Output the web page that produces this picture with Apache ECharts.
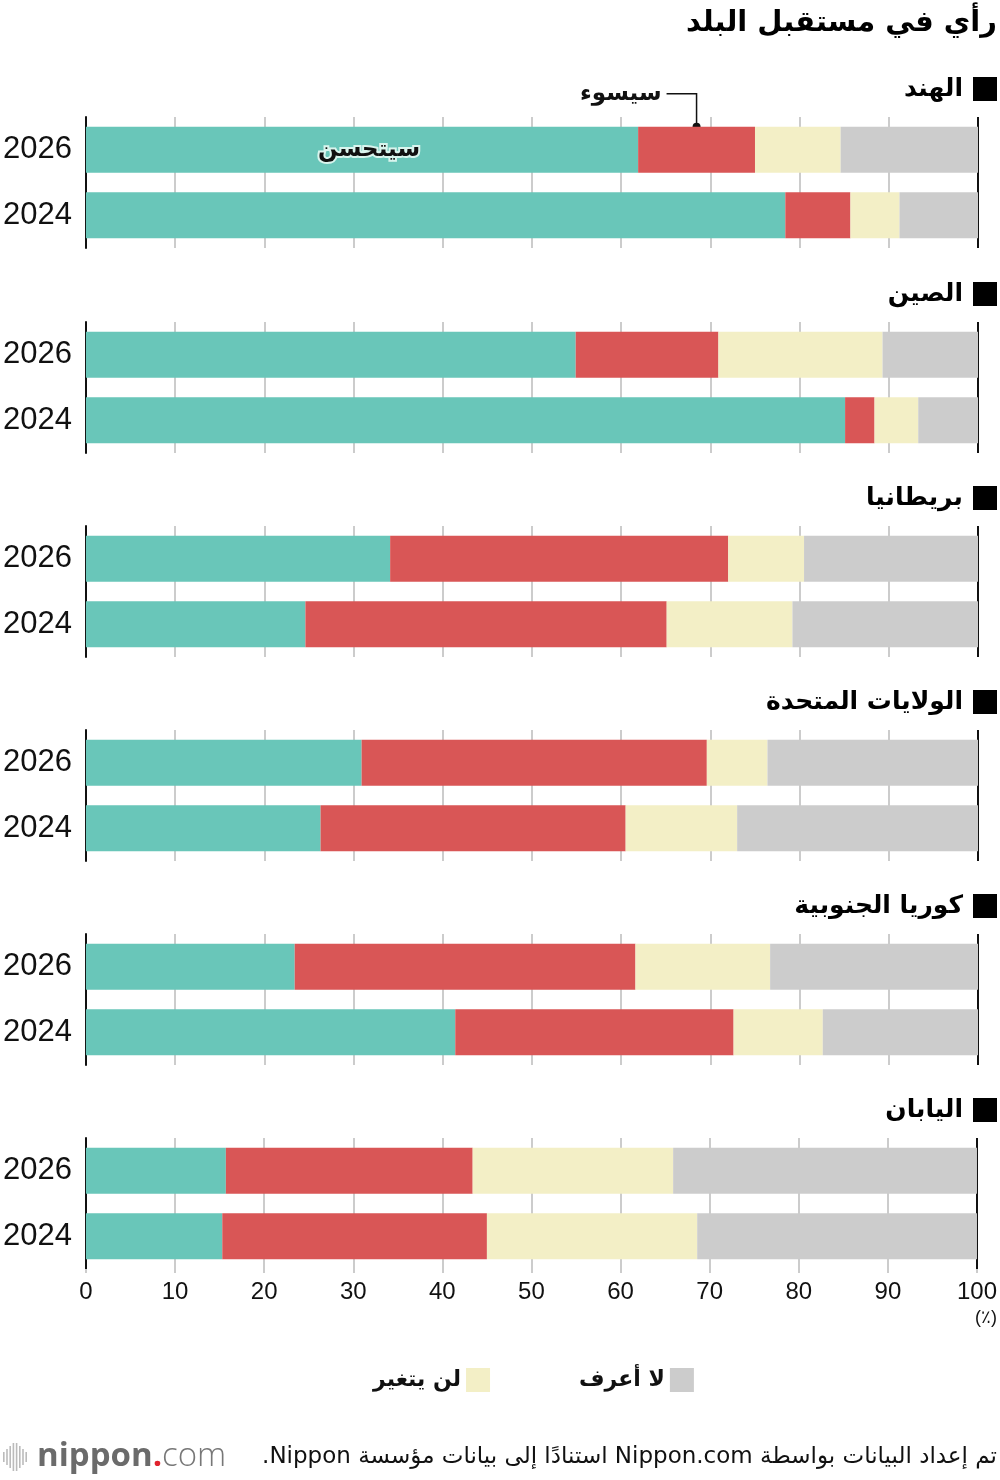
<!DOCTYPE html>
<html><head><meta charset="utf-8">
<script src="https://cdn.jsdelivr.net/npm/echarts@6/dist/echarts.min.js"></script>
<style>html,body{margin:0;padding:0;background:#fff}#c{width:1000px;height:1480px}</style>
</head><body><div id="c"></div>
<script>
const years = ['2026', '2024'];
const countries = ['الهند', 'الصين', 'بريطانيا', 'الولايات المتحدة', 'كوريا الجنوبية', 'اليابان'];
const better = [[61.9, 78.4], [54.9, 85.1], [34.1, 24.6], [30.9, 26.3], [23.4, 41.4], [15.7, 15.3]];
const worse  = [[13.1, 7.3], [16.0, 3.3], [37.9, 40.5], [38.7, 34.2], [38.2, 31.2], [27.7, 29.7]];
const same   = [[9.6, 5.5], [18.4, 4.9], [8.5, 14.1], [6.8, 12.5], [15.1, 10.0], [22.5, 23.6]];
const dunno  = [[15.4, 8.8], [10.7, 6.7], [19.5, 20.8], [23.6, 27.0], [23.3, 17.4], [34.1, 31.4]];
const seriesNames = ['سيتحسن', 'سيسوء', 'لن يتغير', 'لا أعرف'];
const xTickLabels = ['0', '10', '20', '30', '40', '50', '60', '70', '80', '90', '100'];

const colors = ['#69c6b9', '#d95656', '#f3efc6', '#cccccc'];
const AR = "'DejaVu Sans', sans-serif";
const NUM = "'Liberation Sans', Arial, sans-serif";
const gridTops = [117, 322, 526, 730, 934, 1138];
const gridH = 131;
const RLE = '\u202B', PDF = '\u202C';

const chart = echarts.init(document.getElementById('c'), null, {renderer: 'canvas'});

const grids = [], xAxes = [], yAxes = [], series = [];
const splitColors = xTickLabels.map((t, i) => (i === 0 || i === xTickLabels.length - 1) ? '#111' : '#cccccc');
const values = [better, worse, same, dunno];

countries.forEach((c, i) => {
  const last = i === countries.length - 1;
  grids.push({left: 84, right: 22, top: gridTops[i], height: gridH, containLabel: false});
  xAxes.push({
    type: 'value', gridIndex: i, min: 0, max: 100, interval: 10,
    axisLine: {show: false},
    axisTick: {show: last, length: 4, lineStyle: {color: '#cccccc', width: 2}},
    axisLabel: {show: last, fontSize: 24, color: '#111', fontFamily: NUM, margin: 11,
      formatter: v => xTickLabels[Math.round(v / 10)]},
    splitLine: {show: true, showMinLine: true, showMaxLine: true, lineStyle: {color: splitColors, width: 2}}
  });
  yAxes.push({
    type: 'category', gridIndex: i, data: years, inverse: true,
    axisLine: {show: true, lineStyle: {color: '#111', width: 2}},
    axisTick: {show: false},
    axisLabel: {fontSize: 31, color: '#111', fontFamily: NUM, margin: 14}
  });
  values.forEach((arr, k) => {
    const data = arr[i].map(v => v);
    let d = data;
    if (i === 0 && k === 0) {
      d = [{value: data[0], label: {show: true, position: 'inside', offset: [7, 0], formatter: seriesNames[0],
        fontFamily: AR, fontWeight: 'bold', fontSize: 23, color: '#111',
        textBorderColor: '#d9f5ee', textBorderWidth: 4}}, data[1]];
    }
    series.push({
      type: 'bar', name: seriesNames[k], xAxisIndex: i, yAxisIndex: i, stack: 'g' + i,
      barWidth: 46, data: d, itemStyle: {color: colors[k]}, silent: true, animation: false
    });
  });
});

const graphics = [];
countries.forEach((c, i) => {
  const cy = gridTops[i] - 28;
  graphics.push({type: 'rect', shape: {x: 973, y: cy - 12, width: 24, height: 24}, style: {fill: '#000'}});
  graphics.push({type: 'text', x: 963, y: cy, style: {text: c, fill: '#000', font: "bold 25px " + AR, textAlign: 'right', textVerticalAlign: 'middle'}});
});
graphics.push({type: 'text', x: 997, y: 1318, style: {text: '(٪)', fill: '#111', font: "18px " + NUM, textAlign: 'right', textVerticalAlign: 'middle'}});
// footer
graphics.push({type: 'text', x: 997, y: 1457, style: {text: RLE + 'تم إعداد البيانات بواسطة Nippon.com استنادًا إلى بيانات مؤسسة Nippon.' + PDF, fill: '#111', font: "23px " + AR, textAlign: 'right', textVerticalAlign: 'middle'}});
for (let b = 0; b < 8; b++) {
  const h = [10, 16, 22, 28, 28, 22, 16, 10][b];
  graphics.push({type: 'rect', shape: {x: 3 + b * 3.2, y: 1457 - h / 2, width: 1.6, height: h}, style: {fill: '#bbb'}});
}
graphics.push({type: 'text', x: 37, y: 1457, style: {
  text: '{a|nippon}{b|.}{c|com}', textVerticalAlign: 'middle',
  rich: {a: {font: "bold 33px 'Open Sans', 'DejaVu Sans', sans-serif", fill: '#6b6b6b'},
         b: {font: "bold 33px 'Open Sans', sans-serif", fill: '#e0232d'},
         c: {font: "300 33px 'Open Sans', sans-serif", fill: '#777'}}
}});

chart.setOption({
  animation: false,
  title: {text: 'رأي في مستقبل البلد', right: -2, top: 4,
    textStyle: {fontFamily: AR, fontWeight: 'bold', fontSize: 29, color: '#000'}},
  legend: {
    data: ['لن يتغير', 'لا أعرف'], left: 368, top: 1363, align: 'right',
    icon: 'rect', itemWidth: 24, itemHeight: 24, itemGap: 89, selectedMode: false,
    textStyle: {fontFamily: AR, fontWeight: 'bold', fontSize: 22, color: '#111'}
  },
  grid: grids, xAxis: xAxes, yAxis: yAxes, series: series,
  graphic: graphics
});

// annotation for "سيسوء" computed through the chart's own scales
const v0 = better[0][0], v1 = worse[0][0];
const p = chart.convertToPixel({xAxisIndex: 0, yAxisIndex: 0}, [v0 + v1 / 2, years[0]]);
const topY = p[1] - 23;
const lineY = topY - 33;
graphics.push({type: 'polyline', shape: {points: [[p[0], topY], [p[0], lineY], [p[0] - 30, lineY]]}, style: {stroke: '#111', lineWidth: 1.5, fill: null}});
graphics.push({type: 'circle', shape: {cx: p[0], cy: topY, r: 4}, style: {fill: '#111'}});
graphics.push({type: 'text', x: p[0] - 35, y: lineY, style: {text: seriesNames[1], fill: '#111', font: "bold 23px " + AR, textAlign: 'right', textVerticalAlign: 'middle'}});
chart.setOption({graphic: graphics});
</script></body></html>
